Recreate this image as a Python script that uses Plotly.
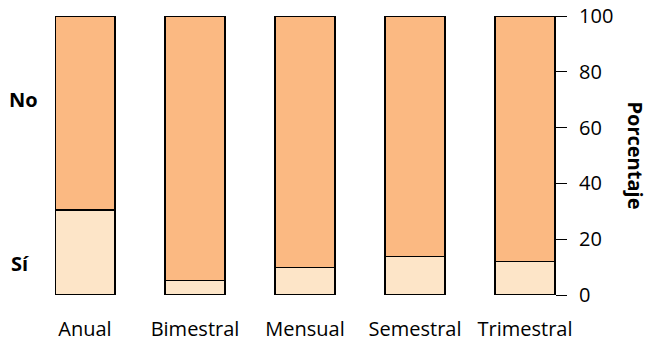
import plotly.graph_objects as go

categorias = ["Anual", "Bimestral", "Mensual", "Semestral", "Trimestral"]
si_vals = [30.5, 5.1, 9.9, 13.9, 11.9]
no_vals = [100 - v for v in si_vals]
y_ticks = [0, 20, 40, 60, 80, 100]

col_si = "#FDE5C8"
col_no = "#FBB982"
font_fam = "Open Sans, Noto Sans, sans-serif"

fig = go.Figure()
fig.add_trace(go.Bar(x=categorias, y=si_vals, name="Sí", marker=dict(color=col_si, line=dict(color="black", width=1.2)), width=0.545))
fig.add_trace(go.Bar(x=categorias, y=no_vals, name="No", marker=dict(color=col_no, line=dict(color="black", width=1.2)), width=0.545))

fig.update_layout(
    barmode="stack",
    width=650, height=347,
    margin=dict(l=55, r=95, t=16, b=52, autoexpand=False),
    plot_bgcolor="white", paper_bgcolor="white",
    showlegend=False,
    font=dict(family=font_fam, size=20, color="black"),
    xaxis=dict(range=[-0.2727, 4.2727], showline=False, ticks="", showgrid=False, automargin=False,
               tickfont=dict(size=20), ticklabelstandoff=20),
    yaxis=dict(side="right", range=[0, 100], tickvals=y_ticks, showgrid=False, zeroline=False,
               automargin=False,
               showline=True, linecolor="black", linewidth=1.2, ticks="outside", ticklen=11,
               tickcolor="black", tickwidth=1.2, tickfont=dict(size=20), ticklabelstandoff=8),
)
fig.add_annotation(text="<b>Porcentaje</b>", xref="paper", yref="paper", x=1.0, xanchor="center",
                   xshift=80, y=0.5, yanchor="middle", textangle=90, showarrow=False,
                   font=dict(size=20))
fig.add_annotation(text="<b>No</b>", xref="paper", yref="paper", x=0, xanchor="center", xshift=-32,
                   y=(295 - 99) / 279, yanchor="middle", showarrow=False, font=dict(size=20))
fig.add_annotation(text="<b>Sí</b>", xref="paper", yref="paper", x=0, xanchor="center", xshift=-35,
                   y=(295 - 263) / 279, yanchor="middle", showarrow=False, font=dict(size=20))

fig.write_html("out.html", config={"displayModeBar": False},
               post_script="document.body.style.margin='0';")
